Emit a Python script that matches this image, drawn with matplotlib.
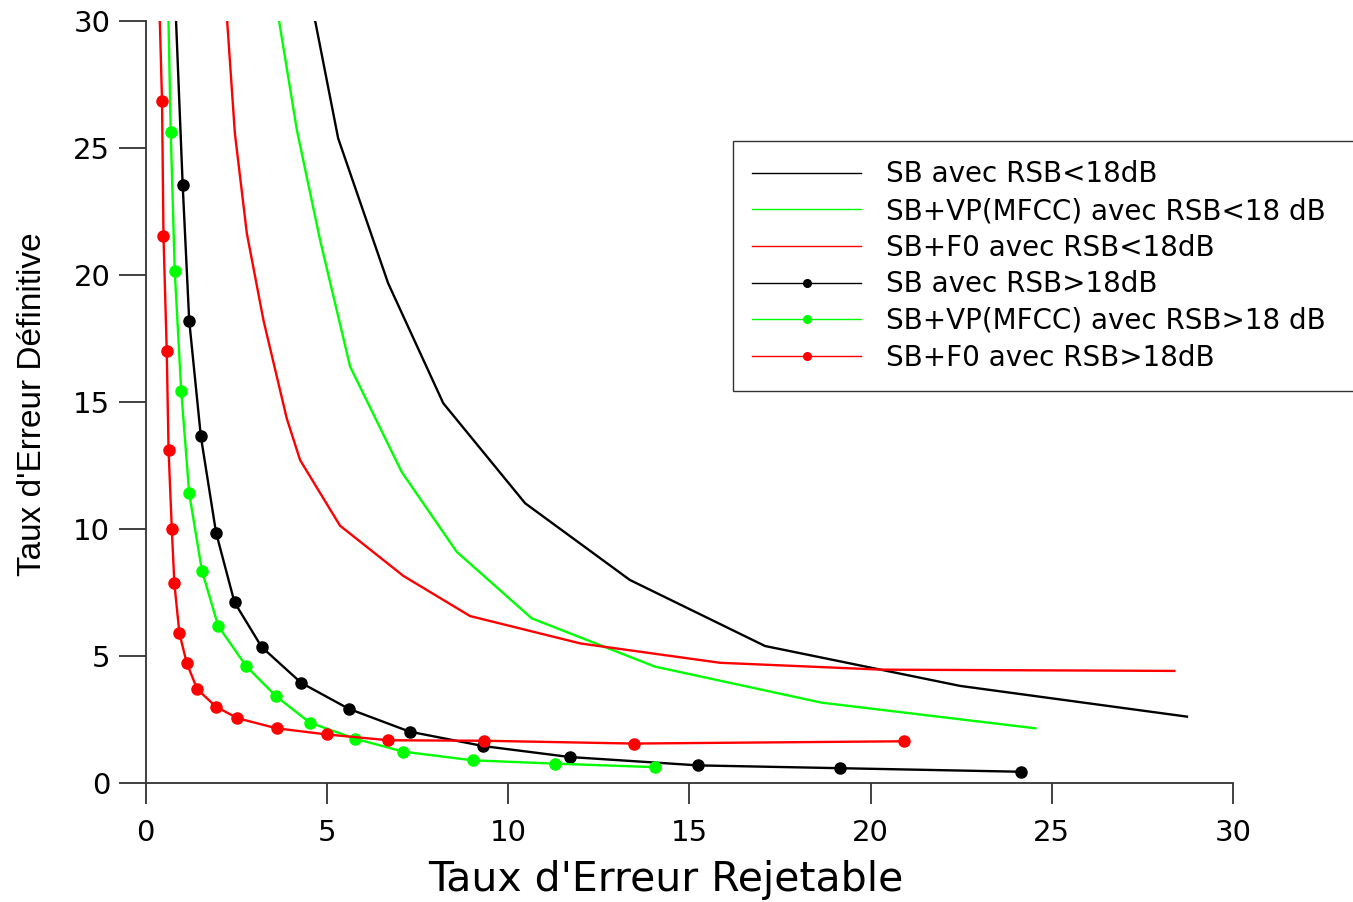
import matplotlib
matplotlib.use('Agg')
import matplotlib.pyplot as plt

# Courbes sans marqueurs (RSB < 18 dB)
sb_lo_x = [4.40, 5.31, 6.69, 8.21, 10.47, 13.36, 17.09, 22.47, 28.73]
sb_lo_y = [32.0, 25.37, 19.66, 14.94, 11.0, 7.98, 5.38, 3.81, 2.60]

vp_lo_x = [3.45, 4.17, 4.81, 5.64, 7.06, 8.58, 10.65, 14.05, 18.65, 24.55]
vp_lo_y = [32.0, 25.7, 21.37, 16.38, 12.24, 9.09, 6.47, 4.57, 3.15, 2.14]

f0_lo_x = [2.15, 2.46, 2.79, 3.25, 3.89, 4.26, 5.36, 7.11, 8.95, 12.0, 15.85, 20.3, 28.38]
f0_lo_y = [32.0, 25.57, 21.63, 18.2, 14.35, 12.7, 10.12, 8.14, 6.56, 5.48, 4.72, 4.45, 4.40]

# Courbes avec marqueurs (RSB > 18 dB)
sb_hi_x = [0.78, 1.02, 1.20, 1.52, 1.94, 2.45, 3.20, 4.29, 5.60, 7.28, 9.32, 11.70, 15.25, 19.16, 24.15]
sb_hi_y = [32.0, 23.53, 18.19, 13.65, 9.85, 7.10, 5.34, 3.93, 2.91, 2.01, 1.44, 1.01, 0.68, 0.57, 0.43]

vp_hi_x = [0.60, 0.69, 0.80, 0.98, 1.20, 1.55, 2.00, 2.77, 3.59, 4.53, 5.78, 7.11, 9.02, 11.29, 14.06]
vp_hi_y = [32.0, 25.62, 20.16, 15.41, 11.39, 8.35, 6.17, 4.59, 3.41, 2.36, 1.73, 1.22, 0.88, 0.75, 0.61]

f0_hi_x = [0.33, 0.45, 0.49, 0.58, 0.63, 0.72, 0.79, 0.93, 1.13, 1.42, 1.94, 2.53, 3.61, 4.99, 6.69, 9.34, 13.46, 20.93]
f0_hi_y = [33.0, 26.85, 21.52, 17.0, 13.10, 9.98, 7.85, 5.88, 4.72, 3.68, 2.99, 2.54, 2.14, 1.90, 1.67, 1.65, 1.54, 1.63]

labels = ['SB avec RSB<18dB', 'SB+VP(MFCC) avec RSB<18 dB', 'SB+F0 avec RSB<18dB',
          'SB avec RSB>18dB', 'SB+VP(MFCC) avec RSB>18 dB', 'SB+F0 avec RSB>18dB']
ticks = [0, 5, 10, 15, 20, 25, 30]

plt.rcParams['font.family'] = ['DejaVu Sans']

fig = plt.figure(figsize=(13.53, 9.02), dpi=100)
ax = fig.add_axes([0.1077, 0.1323, 0.8036, 0.8447])

lw = 1.7
ms = 8
ax.plot(sb_lo_x, sb_lo_y, color='black', lw=lw, label=labels[0])
ax.plot(vp_lo_x, vp_lo_y, color='#00ff00', lw=lw, label=labels[1])
ax.plot(f0_lo_x, f0_lo_y, color='#ff0000', lw=lw, label=labels[2])
ax.plot(sb_hi_x, sb_hi_y, color='black', lw=lw, marker='o', ms=ms, label=labels[3])
ax.plot(vp_hi_x, vp_hi_y, color='#00ff00', lw=lw, marker='o', ms=ms, label=labels[4])
ax.plot(f0_hi_x, f0_hi_y, color='#ff0000', lw=lw, marker='o', ms=ms, label=labels[5])

ax.set_xlim(0, 30)
ax.set_ylim(0, 30)
ax.set_xticks(ticks)
ax.set_yticks(ticks)

for side in ['top', 'right']:
    ax.spines[side].set_visible(False)
for side in ['left', 'bottom']:
    ax.spines[side].set_color('#333333')
    ax.spines[side].set_linewidth(1.3)

ax.tick_params(axis='x', direction='out', length=15, width=1.3, color='#333333',
               labelsize=21, pad=11)
ax.tick_params(axis='y', direction='out', length=19.5, width=1.3, color='#333333',
               labelsize=21, pad=6)

ax.set_xlabel("Taux d'Erreur Rejetable", fontsize=29.5)
ax.xaxis.set_label_coords(0.4785, -0.128)
ax.xaxis.label.set_verticalalignment('center')

ax.set_ylabel("Taux d'Erreur Définitive", fontsize=24, family='Liberation Sans')
ax.yaxis.set_label_coords(-0.104, 0.497)
ax.yaxis.label.set_verticalalignment('center')

# cadre de légende qui déborde à droite, comme l'original
x0 = 733 / 1353
top = 1 - 141 / 902
leg = ax.legend(loc='upper left', bbox_to_anchor=(x0, top - 0.5, 1.08 - x0, 0.5),
                bbox_transform=fig.transFigure, mode='expand', borderaxespad=0,
                fontsize=20, handlelength=3.9, handletextpad=0.9, labelspacing=0.31,
                borderpad=0.7, fancybox=False, framealpha=1, edgecolor='#333333')
leg.get_frame().set_linewidth(1.0)
for line in leg.get_lines():
    line.set_linewidth(1.0)
    line.set_markersize(5.5)

fig.savefig('out.png', dpi=100)
